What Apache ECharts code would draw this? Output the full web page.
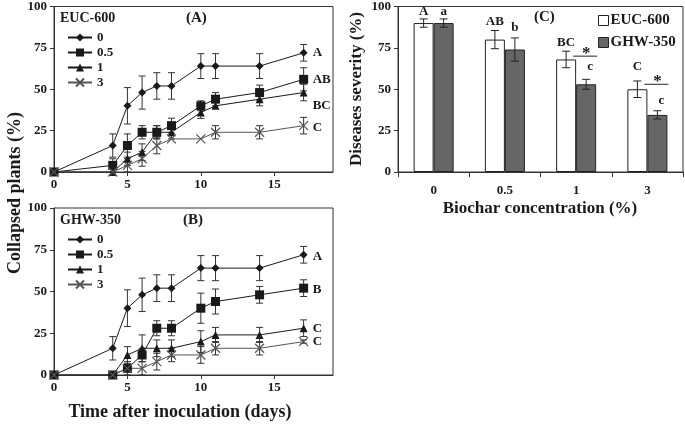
<!DOCTYPE html>
<html><head><meta charset="utf-8">
<script src="https://cdn.jsdelivr.net/npm/echarts@6/dist/echarts.min.js"></script>
<style>html,body{margin:0;padding:0;background:#fff}#c{width:685px;height:428px}</style>
</head><body><div id="c"></div>
<script>
// ---------- data ----------
const days = [0, 4, 5, 6, 7, 8, 10, 11, 14, 17];
const doses = ['0', '0.5', '1', '3'];

// Panel A: EUC-600
const eucA0 = [0, 16, 40, 48, 52, 52, 64, 64, 64, 72];
const eucA0Err = [0, 7, 11, 10, 8, 8, 7.5, 7.5, 7.5, 5];
const eucA05 = [0, 4, 16, 24, 24, 28, 40, 44, 48, 56];
const eucA05Err = [0, 4, 7, 4, 4, 4.5, 3, 4, 4.5, 7];
const eucA1 = [0, 0, 8, 12, 24, 24, 36, 40, 44, 48];
const eucA1Err = [0, 0, 4, 5, 4, 4, 3.6, 0, 4, 5];
const eucA3 = [0, 0, 4, 8, 16, 20, 20, 24, 24, 28];
const eucA3Err = [0, 0, 4, 4.5, 5, 0, 0, 4, 4, 5];
const endLabelsA = ['A', 'AB', 'BC', 'C'];
const endLabelsAY = [72, 56, 40, 27];

// Panel B: GHW-350
const ghwB0 = [0, 16, 40, 48, 52, 52, 64, 64, 64, 72];
const ghwB0Err = [0, 7, 11, 10, 8, 8, 7.5, 7.5, 7.5, 5];
const ghwB05 = [0, 0, 4, 12, 28, 28, 40, 44, 48, 52];
const ghwB05Err = [0, 0, 0, 4, 4.5, 4.5, 9, 7.5, 5, 5];
const ghwB1 = [0, 0, 12, 16, 16, 16, 20, 24, 24, 28];
const ghwB1Err = [0, 0, 5, 8, 5, 5, 6.5, 4.5, 4.5, 5];
const ghwB3 = [0, 0, 4, 4, 8, 12, 12, 16, 16, 20];
const ghwB3Err = [0, 0, 4, 4, 5, 4, 5, 4, 4, 1];
const endLabelsB = ['A', 'B', 'C', 'C'];
const endLabelsBY = [71, 51, 28, 20];

// Panel C: disease severity
const concentrations = ['0', '0.5', '1', '3'];
const eucSeverity = [90, 80, 68, 50];
const eucSeverityErr = [2.5, 5.5, 5, 5];
const ghwSeverity = [90, 74, 53, 34.5];
const ghwSeverityErr = [2.5, 7, 3, 2.5];
const eucLetters = ['A', 'AB', 'BC', 'C'];
const eucLetterY = [93, 87, 74, 60];
const ghwLetters = ['a', 'b', 'c', 'c'];
const ghwLetterY = [93, 83, 60, 39];
const starCats = [2, 3];
const starLineY = [70, 53];

// ---------- styles ----------
const FONT = '"Liberation Serif", "DejaVu Serif", serif';
const INK = '#1a1a1a';
const markers = [
  { symbol: 'diamond', size: 8, color: INK },
  { symbol: 'rect', size: 9, color: INK },
  { symbol: 'triangle', size: 8, color: INK },
  { symbol: 'path://M0,0L10,10M0,10L10,0', size: 9, color: '#555' }
];

function errSeries(vals, errs, axis, color) {
  return {
    type: 'custom', xAxisIndex: axis, yAxisIndex: axis, z: 1, silent: true,
    data: days.map((d, i) => [d, vals[i], errs[i]]),
    renderItem: function (params, api) {
      const e = api.value(2);
      if (!e) return null;
      const x = api.value(0), y = api.value(1);
      const top = api.coord([x, y + e]);
      const bot = api.coord([x, y - e]);
      const w = 3.5;
      const st = { stroke: color, lineWidth: 1 };
      return { type: 'group', children: [
        { type: 'line', shape: { x1: top[0], y1: top[1], x2: bot[0], y2: bot[1] }, style: st },
        { type: 'line', shape: { x1: top[0] - w, y1: top[1], x2: top[0] + w, y2: top[1] }, style: st },
        { type: 'line', shape: { x1: bot[0] - w, y1: bot[1], x2: bot[0] + w, y2: bot[1] }, style: st }
      ]};
    }
  };
}

function lineSeries(name, vals, axis, k) {
  const m = markers[k];
  return {
    type: 'line', name: name, xAxisIndex: axis, yAxisIndex: axis, z: 3,
    data: days.map((d, i) => [d, vals[i]]),
    symbol: m.symbol, symbolSize: m.size, showSymbol: true,
    lineStyle: { color: m.color, width: 1 },
    itemStyle: { color: m.color, borderColor: m.color, borderWidth: k === 3 ? 1.2 : 0 },
    emphasis: { disabled: true }
  };
}

function endLabelSeries(labels, ys, axis) {
  return {
    type: 'custom', xAxisIndex: axis, yAxisIndex: axis, silent: true, z: 5,
    data: labels.map((t, i) => [days[days.length - 1], ys[i], t]),
    renderItem: function (params, api) {
      const p = api.coord([api.value(0), api.value(1)]);
      return { type: 'text', x: p[0] + 9, y: p[1],
        style: { text: labels[params.dataIndex], font: 'bold 13px ' + FONT, fill: INK, textVerticalAlign: 'middle', textAlign: 'left' } };
    }
  };
}

const xAxisLine = (gi) => ({
  type: 'value', gridIndex: gi, min: 0, max: 19, interval: 5,
  axisLine: { show: true, lineStyle: { color: '#333' } },
  axisTick: { show: true, inside: false, length: 4, lineStyle: { color: '#333' } },
  axisLabel: { showMaxLabel: false, color: INK, fontFamily: FONT, fontWeight: 'bold', fontSize: 13, margin: 6 },
  splitLine: { show: false }
});
const yAxisVal = (gi) => ({
  type: 'value', gridIndex: gi, min: 0, max: 100, interval: 25,
  axisLine: { show: true, lineStyle: { color: '#333' } },
  axisTick: { show: true, length: 4, lineStyle: { color: '#333' } },
  axisLabel: { color: INK, fontFamily: FONT, fontWeight: 'bold', fontSize: 13, margin: 7 },
  splitLine: { show: false }
});

const series = [];
// Panel A
[[eucA0, eucA0Err], [eucA05, eucA05Err], [eucA1, eucA1Err], [eucA3, eucA3Err]].forEach((p) => {
  series.push(errSeries(p[0], p[1], 0, '#333'));
});
[eucA0, eucA05, eucA1, eucA3].forEach((v, k) => series.push(lineSeries(doses[k], v, 0, k)));
series.push(endLabelSeries(endLabelsA, endLabelsAY, 0));
// Panel B
[[ghwB0, ghwB0Err], [ghwB05, ghwB05Err], [ghwB1, ghwB1Err], [ghwB3, ghwB3Err]].forEach((p) => {
  series.push(errSeries(p[0], p[1], 1, '#333'));
});
[ghwB0, ghwB05, ghwB1, ghwB3].forEach((v, k) => series.push(lineSeries(doses[k], v, 1, k)));
series.push(endLabelSeries(endLabelsB, endLabelsBY, 1));

// Panel C bars
series.push({
  type: 'bar', name: 'EUC-600', xAxisIndex: 2, yAxisIndex: 2, data: eucSeverity,
  barWidth: 20, barGap: '0%',
  itemStyle: { color: '#ffffff', borderColor: '#222', borderWidth: 1 }
});
series.push({
  type: 'bar', name: 'GHW-350', xAxisIndex: 2, yAxisIndex: 2, data: ghwSeverity,
  barWidth: 20, barGap: '0%',
  itemStyle: { color: '#666666', borderColor: '#222', borderWidth: 1 }
});
function barErr(vals, errs, sign, letters, letterY) {
  return {
    type: 'custom', xAxisIndex: 2, yAxisIndex: 2, z: 5, silent: true,
    data: vals.map((v, i) => [i, v, errs[i], letterY[i]]),
    renderItem: function (params, api) {
      const i = api.value(0), v = api.value(1), e = api.value(2);
      const c = api.coord([i, v]);
      const x = c[0] + sign * 10;
      const t = api.coord([i, v + e])[1], b = api.coord([i, v - e])[1];
      const ly = api.coord([i, api.value(3)])[1];
      const w = 4, st = { stroke: '#222', lineWidth: 1 };
      return { type: 'group', children: [
        { type: 'line', shape: { x1: x, y1: t, x2: x, y2: b }, style: st },
        { type: 'line', shape: { x1: x - w, y1: t, x2: x + w, y2: t }, style: st },
        { type: 'line', shape: { x1: x - w, y1: b, x2: x + w, y2: b }, style: st },
        { type: 'text', x: x + (sign > 0 && i >= 2 ? 4 : 0), y: ly,
          style: { text: letters[i], font: 'bold 13px ' + FONT, fill: INK, textAlign: 'center', textVerticalAlign: 'bottom' } }
      ]};
    }
  };
}
series.push(barErr(eucSeverity, eucSeverityErr, -1, eucLetters, eucLetterY));
series.push(barErr(ghwSeverity, ghwSeverityErr, 1, ghwLetters, ghwLetterY));
series.push({
  type: 'custom', xAxisIndex: 2, yAxisIndex: 2, z: 5, silent: true,
  data: starCats.map((c, i) => [c, starLineY[i]]),
  renderItem: function (params, api) {
    const p = api.coord([api.value(0), api.value(1)]);
    return { type: 'group', children: [
      { type: 'line', shape: { x1: p[0] - 3, y1: p[1], x2: p[0] + 21, y2: p[1] }, style: { stroke: '#222', lineWidth: 1 } },
      { type: 'text', x: p[0] + 10, y: p[1] + 6,
        style: { text: '*', font: 'bold 17px ' + FONT, fill: INK, textAlign: 'center', textVerticalAlign: 'bottom' } }
    ]};
  }
});

const option = {
  animation: false,
  grid: [
    { left: 54, top: 6, width: 279, height: 166, show: true, borderColor: '#333', borderWidth: 1 },
    { left: 54, top: 208, width: 279, height: 167, show: true, borderColor: '#333', borderWidth: 1 },
    { left: 398, top: 6, width: 285, height: 166, show: true, borderColor: '#333', borderWidth: 1 }
  ],
  xAxis: [xAxisLine(0), xAxisLine(1), {
    type: 'category', gridIndex: 2, data: concentrations,
    axisLine: { show: true, lineStyle: { color: '#333' } },
    axisTick: { show: true, length: 5, lineStyle: { color: '#333' } },
    axisLabel: { color: INK, fontFamily: FONT, fontWeight: 'bold', fontSize: 13, margin: 12 }
  }],
  yAxis: [yAxisVal(0), yAxisVal(1), yAxisVal(2)],
  legend: [
    { data: doses, left: 62, top: 26, orient: 'vertical', itemGap: 2, itemWidth: 24, itemHeight: 10,
      textStyle: { fontFamily: FONT, fontWeight: 'bold', fontSize: 13, color: INK }, selectedMode: false },
    { data: doses, left: 62, top: 228, orient: 'vertical', itemGap: 2, itemWidth: 24, itemHeight: 10,
      textStyle: { fontFamily: FONT, fontWeight: 'bold', fontSize: 13, color: INK }, selectedMode: false },
    { data: ['EUC-600', 'GHW-350'], left: 593, top: 8, orient: 'vertical', itemGap: 7, itemWidth: 10, itemHeight: 10,
      icon: 'rect', itemStyle: { borderColor: '#222', borderWidth: 1 },
      textStyle: { fontFamily: FONT, fontWeight: 'bold', fontSize: 15, color: INK, padding: [0, 0, 0, -3] }, selectedMode: false }
  ],
  graphic: [
    { type: 'text', left: 60, top: 11, style: { text: 'EUC-600', font: 'bold 14px ' + FONT, fill: INK } },
    { type: 'text', left: 60, top: 213, style: { text: 'GHW-350', font: 'bold 14px ' + FONT, fill: INK } },
    { type: 'text', left: 186, top: 11, style: { text: '(A)', font: 'bold 15px ' + FONT, fill: INK } },
    { type: 'text', left: 183, top: 213, style: { text: '(B)', font: 'bold 15px ' + FONT, fill: INK } },
    { type: 'text', left: 534, top: 10, style: { text: '(C)', font: 'bold 15px ' + FONT, fill: INK } },
    { type: 'text', x: 15, y: 193, rotation: Math.PI / 2,
      style: { text: 'Collapsed plants (%)', font: 'bold 18px ' + FONT, fill: INK, textAlign: 'center', textVerticalAlign: 'middle' } },
    { type: 'text', x: 180, y: 412,
      style: { text: 'Time after inoculation (days)', font: 'bold 18px ' + FONT, fill: INK, textAlign: 'center', textVerticalAlign: 'middle' } },
    { type: 'text', x: 357, y: 89, rotation: Math.PI / 2,
      style: { text: 'Diseases severity (%)', font: 'bold 17px ' + FONT, fill: INK, textAlign: 'center', textVerticalAlign: 'middle' } },
    { type: 'text', x: 540, y: 209,
      style: { text: 'Biochar concentration (%)', font: 'bold 17px ' + FONT, fill: INK, textAlign: 'center', textVerticalAlign: 'middle' } }
  ],
  series: series
};
echarts.init(document.getElementById('c'), null, { renderer: 'canvas' }).setOption(option);
</script>
</body></html>
